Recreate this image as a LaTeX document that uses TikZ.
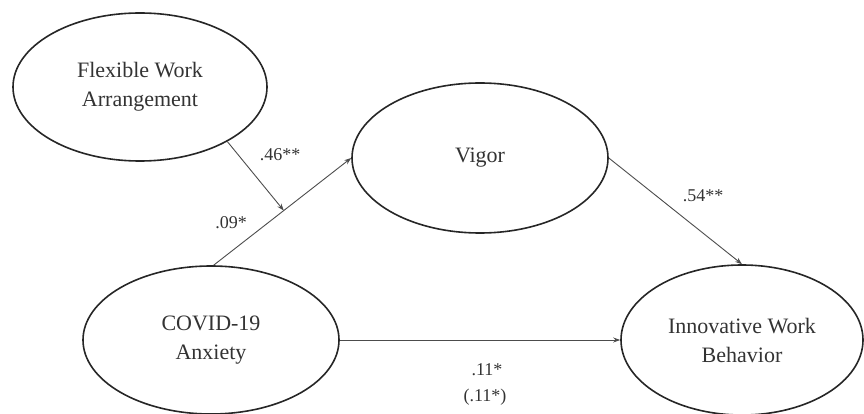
\documentclass[tikz,border=0pt]{standalone}
\usepackage{fontspec}
\setmainfont{Liberation Serif}
\usetikzlibrary{shapes.geometric,arrows.meta}
\begin{document}
\begin{tikzpicture}[x=1pt,y=-1pt,
  latent/.style={ellipse,draw=black!85,line width=1.6pt,inner sep=0pt,align=center,
    font=\fontsize{22}{29}\selectfont,text=black!80},
  path/.style={draw=black!70,line width=0.9pt,-{Stealth[length=7pt,width=5pt]}},
  lab/.style={font=\fontsize{18}{26}\selectfont,text=black!80,inner sep=0pt}]
\useasboundingbox (0,0) rectangle (864,414);
\node[latent,minimum width=254pt,minimum height=148pt] (fwa) at (140,87) {Flexible Work\\Arrangement};
\node[latent,minimum width=256pt,minimum height=150pt] (vig) at (480,158) {Vigor};
\node[latent,minimum width=256pt,minimum height=148pt] (cov) at (211,340) {COVID-19\\Anxiety};
\node[latent,minimum width=242pt,minimum height=150pt] (iwb) at (742,340) {Innovative Work\\Behavior};
\draw[path] (cov.88) -- coordinate[pos=0.51] (j) (vig.west);
\draw[path] (fwa.-32) -- (j);
\draw[path] (vig.east) -- (iwb.north);
\draw[path] (cov.east) -- (iwb.west);
\node[lab] (l46) at (280,155) {.46**};
\node[lab] (l09) at (231,223) {.09*};
\node[lab] (l54) at (703,196) {.54**};
\node[lab] (l11) at (487,370) {.11*};
\node[lab] (l11b) at (485,397) {(.11*)};
\end{tikzpicture}
\end{document}
